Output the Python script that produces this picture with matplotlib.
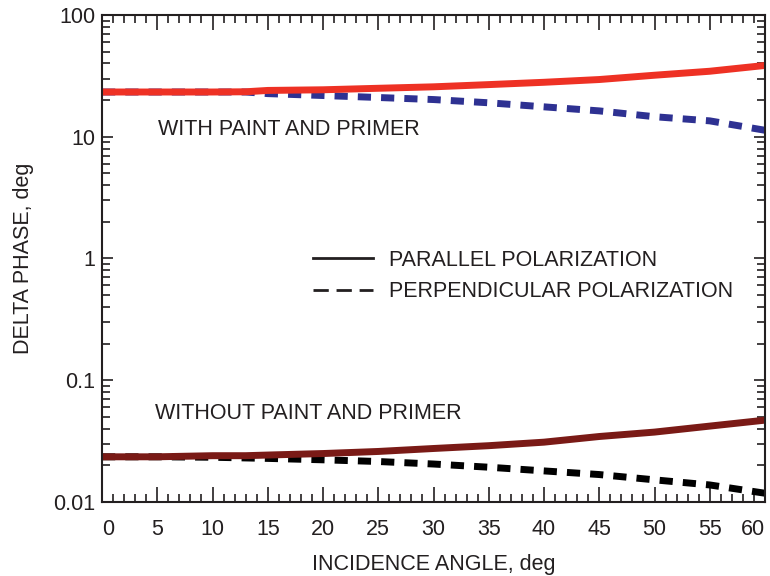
import numpy as np
import matplotlib
matplotlib.use('Agg')
import matplotlib.pyplot as plt
from matplotlib.lines import Line2D
from matplotlib.ticker import MultipleLocator, LogLocator, NullFormatter, FixedFormatter, FixedLocator

plt.rcParams['font.family'] = ['Liberation Sans', 'DejaVu Sans']

# incidence angle, deg
angle = [0, 5, 10, 13, 15, 20, 25, 30, 35, 40, 45, 50, 55, 60]

# with paint and primer
paint_par = [23.3, 23.3, 23.3, 23.4, 24.0, 24.3, 25.0, 25.7, 26.8, 28.0, 29.5, 32.0, 34.5, 38.5]
paint_perp = [23.3, 23.3, 23.3, 23.3, 22.6, 21.8, 21.0, 20.2, 19.0, 17.6, 16.3, 14.6, 13.5, 11.3]

# without paint and primer
bare_par = [0.0235, 0.0235, 0.024, 0.024, 0.0243, 0.025, 0.026, 0.0275, 0.029, 0.031, 0.0345, 0.0375, 0.042, 0.047]
bare_perp = [0.0235, 0.0235, 0.0233, 0.023, 0.0228, 0.0222, 0.0215, 0.0205, 0.0193, 0.018, 0.0168, 0.0152, 0.0138, 0.0118]

# axis ticks
x_ticks = list(range(0, 61, 5))
y_ticks = [0.01, 0.1, 1, 10, 100]
y_tick_labels = ['0.01', '0.1', '1', '10', '100']

ink = '#231F20'
red = '#EE3124'
blue = '#2E3192'
darkred = '#7A1A16'
fs = 15.5

fig = plt.figure(figsize=(7.7, 5.76), dpi=100)
ax = fig.add_axes([0.1325, 0.1285, 0.861, 0.8455])

ax.plot(angle, paint_perp, color=blue, lw=5, dashes=(1.9, 1.45))
ax.plot(angle, paint_par, color=red, lw=5, solid_capstyle='butt')
ax.plot(angle, bare_perp, color='black', lw=5, dashes=(1.9, 1.45))
ax.plot(angle, bare_par, color=darkred, lw=5, solid_capstyle='butt')

ax.set_yscale('log')
ax.set_xlim(0, 60)
ax.set_ylim(0.01, 100)

ax.xaxis.set_major_locator(FixedLocator(x_ticks))
ax.xaxis.set_minor_locator(MultipleLocator(1))
ax.yaxis.set_major_locator(FixedLocator(y_ticks))
ax.yaxis.set_major_formatter(FixedFormatter(y_tick_labels))
ax.yaxis.set_minor_locator(LogLocator(base=10, subs=np.arange(2, 10)))
ax.yaxis.set_minor_formatter(NullFormatter())

ax.tick_params(which='both', direction='in', top=True, right=True, colors=ink,
               labelsize=fs, width=1.2)
ax.tick_params(axis='x', which='major', length=11, pad=12)
ax.tick_params(axis='x', which='minor', length=6)
ax.tick_params(axis='y', which='major', length=8, pad=5)
ax.tick_params(axis='y', which='minor', length=6)
for s in ax.spines.values():
    s.set_linewidth(1.5)
    s.set_color(ink)

# keep end labels inside the figure
xlabels = ax.get_xticklabels()
xlabels[0].set_ha('left')
xlabels[-1].set_ha('right')

ax.set_xlabel('INCIDENCE ANGLE, deg', fontsize=fs, color=ink, labelpad=10)
ax.set_ylabel('DELTA PHASE, deg', fontsize=fs, color=ink, labelpad=14)

ax.text(0.084, 0.764, 'WITH PAINT AND PRIMER', transform=ax.transAxes,
        fontsize=fs, color=ink, va='center', ha='left')
ax.text(0.080, 0.181, 'WITHOUT PAINT AND PRIMER', transform=ax.transAxes,
        fontsize=fs, color=ink, va='center', ha='left')

handles = [Line2D([], [], color=ink, lw=2),
           Line2D([], [], color=ink, lw=2, dashes=(5.5, 2.8))]
leg = ax.legend(handles, ['PARALLEL POLARIZATION', 'PERPENDICULAR POLARIZATION'],
                loc='center left', bbox_to_anchor=(0.318, 0.464), frameon=False,
                fontsize=fs, handlelength=2.8, handletextpad=0.75, labelspacing=0.5,
                borderpad=0, borderaxespad=0)
for t in leg.get_texts():
    t.set_color(ink)

fig.savefig('out.png', dpi=100)
